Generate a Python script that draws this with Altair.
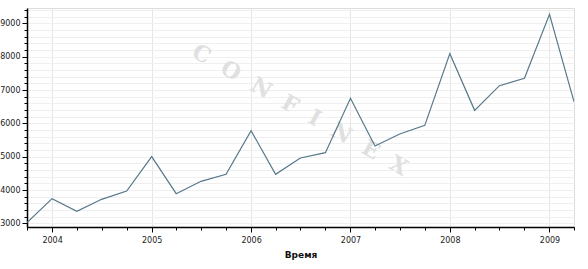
import altair as alt
import pandas as pd

quarters = [
    "2003-10-01", "2004-01-01", "2004-04-01", "2004-07-01", "2004-10-01",
    "2005-01-01", "2005-04-01", "2005-07-01", "2005-10-01",
    "2006-01-01", "2006-04-01", "2006-07-01", "2006-10-01",
    "2007-01-01", "2007-04-01", "2007-07-01", "2007-10-01",
    "2008-01-01", "2008-04-01", "2008-07-01", "2008-10-01",
    "2009-01-01", "2009-04-01",
]
values = [
    3020, 3740, 3360, 3720, 3970,
    5000, 3890, 4260, 4470,
    5780, 4470, 4960, 5120,
    6750, 5320, 5680, 5940,
    8090, 6390, 7130, 7350,
    9270, 6650,
]
y_ticks = list(range(3000, 9401, 200))
x_tick_dates = quarters
watermark_letters = ["C", "O", "N", "F", "I", "N", "E", "X"]
watermark = "\u00a0\u00a0".join(watermark_letters)
x_title = "Время"

df = pd.DataFrame({"date": quarters, "value": values})

font = "DejaVu Sans"

x_enc = alt.X(
    "date:T",
    scale=alt.Scale(type="utc", domain=[
        alt.DateTime(year=2003, month=10, date=1, utc=True),
        alt.DateTime(year=2009, month=4, date=1, utc=True),
    ], nice=False),
    axis=alt.Axis(
        title=x_title,
        values=[alt.DateTime(year=int(d[:4]), month=int(d[5:7]), date=1, utc=True) for d in x_tick_dates],
        labelExpr="utcmonth(datum.value) == 0 ? utcFormat(datum.value, '%Y') : ''",
        labelFont=font, labelFontSize=8, labelColor="#222222", labelPadding=4,
        titleFont=font, titleFontSize=9, titleFontWeight="bold", titleColor="#111111",
        titlePadding=6,
        domainColor="#000000", domainWidth=1.5,
        tickColor="#000000",
        tickSize=alt.condition("utcmonth(datum.value) == 0", alt.value(5), alt.value(3)),
        grid=True,
        gridColor="#e6e6e6",
        gridOpacity=alt.condition("utcmonth(datum.value) == 0", alt.value(1), alt.value(0)),
        labelOverlap=False,
    ),
)
y_enc = alt.Y(
    "value:Q",
    scale=alt.Scale(domain=[2890, 9460], nice=False, zero=False),
    axis=alt.Axis(
        title=None,
        values=y_ticks,
        labelExpr="datum.value % 1000 == 0 ? datum.label : ''",
        format="d",
        labelFont=font, labelFontSize=8, labelColor="#222222", labelPadding=2,
        domainColor="#000000", domainWidth=1.5,
        tickColor="#000000",
        tickSize=alt.condition("datum.value % 1000 == 0", alt.value(5), alt.value(3)),
        grid=True, gridColor="#efefef",
        labelOverlap=False,
    ),
)

line = alt.Chart(df).mark_line(color="#56788a", strokeWidth=1.2, clip=True).encode(x=x_enc, y=y_enc)

wm = alt.Chart(pd.DataFrame({"t": [watermark]})).mark_text(
    font="DejaVu Serif", fontSize=22, fontWeight="bold", color="#e0e0e0",
    angle=29.5, align="center", baseline="middle",
).encode(text="t:N", x=alt.value(273), y=alt.value(102))

chart = alt.layer(wm, line).properties(
    width=547, height=219,
    autosize=alt.AutoSizeParams(type="none"),
    padding={"left": 27, "top": 8, "right": 14, "bottom": 42},
).configure_view(stroke="#000000", strokeWidth=1.2).configure(background="#ffffff")

chart.save("out.html", embed_options={"renderer": "svg", "actions": False})
